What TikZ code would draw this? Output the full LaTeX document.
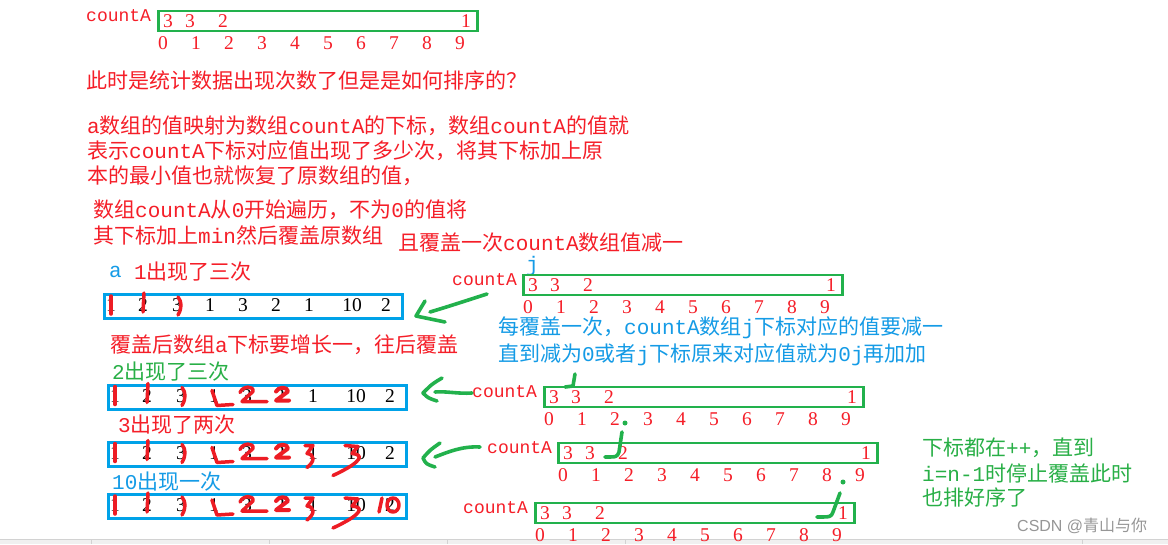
\documentclass[tikz,border=0pt]{standalone}
\usepackage{fontspec}
\setmainfont{Liberation Serif}
\newfontfamily\cjk{Noto Sans CJK SC}
\newfontfamily\mono{Liberation Mono}
\newfontfamily\lsans{Liberation Sans}
\newcommand\m[1]{{\mono #1}}
\definecolor{tred}{RGB}{245,30,40}
\definecolor{mred}{RGB}{237,28,36}
\definecolor{pgreen}{RGB}{34,177,76}
\definecolor{tgreen}{RGB}{40,175,70}
\definecolor{pblue}{RGB}{0,162,232}
\definecolor{tblue}{RGB}{20,155,230}
\definecolor{wmgray}{RGB}{150,150,150}
\definecolor{uibg}{RGB}{240,240,240}
\definecolor{uiline}{RGB}{210,210,210}
\tikzset{
 txt/.style={inner sep=0pt, anchor=west, font=\fontsize{21}{21}\selectfont\cjk},
 lab/.style={inner sep=0pt, anchor=west, text=tred, font=\fontsize{18}{18}\selectfont\mono},
 dig/.style={inner sep=0pt, font=\fontsize{19.5}{19.5}\selectfont},
 gbox/.style={draw=pgreen, line width=2.9pt, inner sep=0pt, anchor=north west, minimum width=319pt, minimum height=20pt},
 bbox/.style={draw=pblue, line width=3.2pt, inner sep=0pt, anchor=north west, minimum width=298pt, minimum height=24pt},
 rmark/.style={draw=mred, line width=3.5pt, line cap=round, line join=round},
 gmark/.style={draw=pgreen, line width=3.6pt, line cap=round, line join=round},
}
\newcommand\carr[4]{%
 \node[lab] (#1l) at (#4,#3-5) {countA};
 \node[gbox] (#1b) at (#2-6,#3-11.5) {};
 \node[dig,text=tred] (#1v0) at (#2+5,#3) {3};
 \node[dig,text=tred] (#1v1) at (#2+27,#3) {3};
 \node[dig,text=tred] (#1v2) at (#2+60,#3) {2};
 \node[dig,text=tred] (#1v9) at (#2+303,#3) {1};
 \foreach \k in {0,...,9} \node[dig,text=tred] (#1i\k) at (#2+33*\k,#3+22) {\k};
}
\newcommand\arow[3]{%
 \node[bbox] (#1b) at (#2,#3) {};
 \foreach \xx/\d [count=\k] in {8/1,40/2,74/3,107/1,140/3,173/2,206/1,249/10,283/2}
   \node[dig] (#1d\k) at (#2+\xx,#3+12) {\d};
}
\newcommand\strikes{%
 \draw[rmark] (8,-9) -- (8,9);
 \draw[rmark] (41,-12) -- (40,7);
 \draw[rmark] (75,-8) .. controls (79,-3) and (79,3) .. (75,10);
}
\newcommand\markB{%
 \draw[rmark] (105,-5) .. controls (107,3) .. (110,10) -- (126,9);
 \draw[rmark] (133,-3) .. controls (136,-10) and (147,-10) .. (146,-4) -- (135,6) -- (160,6);
 \draw[rmark, line width=4pt] (169,-4) .. controls (171,-9) and (181,-9) .. (181,-4) -- (169,5) -- (182,5);
}
\newcommand\markC{%
 \draw[rmark] (198,-7) -- (206,-7) -- (200,1) .. controls (208,2) and (208,9) .. (200,15);
 \draw[rmark] (238,-7) -- (251,-6) -- (245,1) .. controls (256,2) and (258,8) .. (226,23);
}
\begin{document}
\begin{tikzpicture}[x=1pt,y=-1pt]
\useasboundingbox (0,0) rectangle (1168,544);
\fill[white] (0,0) rectangle (1168,544);
% UI strip at the bottom
\fill[uibg] (0,539) rectangle (1168,544);
\draw[uiline, line width=0.8pt] (0,539) -- (1168,539);
\foreach \u in {91,269,447,625,1082} \draw[uiline, line width=0.8pt] (\u,540) -- (\u,544);

% top countA
\carr{c0}{163}{21}{86}

% red explanation text
\node[txt, text=tred] (t1) at (86,81) {此时是统计数据出现次数了但是是如何排序的？};
\node[txt, text=tred] (t2) at (87,126) {\m{a}数组的值映射为数组\m{countA}的下标，数组\m{countA}的值就};
\node[txt, text=tred] (t3) at (87,151) {表示\m{countA}下标对应值出现了多少次，将其下标加上原};
\node[txt, text=tred] (t4) at (87,176) {本的最小值也就恢复了原数组的值，};
\node[txt, text=tred] (t5) at (93,210) {数组\m{countA}从\m{0}开始遍历，不为\m{0}的值将};
\node[txt, text=tred] (t6) at (93,235) {其下标加上\m{min}然后覆盖原数组};
\node[txt, text=tred] (t7) at (398,243) {且覆盖一次\m{countA}数组值减一};

% first array a
\node[txt, text=tblue] (ta) at (109,272) {\m{a}};
\node[txt, text=tred] (t8) at (134,272) {\m{1}出现了三次};
\arow{a1}{103}{293}
\begin{scope}[shift={(103,305)}]\strikes\end{scope}

% countA row 1
\node[txt, text=tblue] (j1) at (526,266) {\m{j}};
\carr{c1}{528}{285}{452}
\node[txt, text=tblue] (t9) at (498,328) {每覆盖一次，\m{countA}数组\m{j}下标对应的值要减一};
\node[txt, text=tblue] (t10) at (498,355) {直到减为\m{0}或者\m{j}下标原来对应值就为\m{0j}再加加};
\coordinate (ar1s) at (487,294);
\coordinate (ar1e) at (430,312);
\coordinate (ar1t) at (416,316);
\draw[gmark] (ar1s) .. controls (462,302) and (450,306) .. (ar1e);
\draw[gmark] (425,301) -- (ar1t) -- (445,322);

% second array
\node[txt, text=tred] (t11) at (110,345) {覆盖后数组\m{a}下标要增长一，往后覆盖};
\node[txt, text=tgreen] (t12) at (112,372) {\m{2}出现了三次};
\arow{a2}{107}{384}
\begin{scope}[shift={(107,395.5)}]\strikes\markB\end{scope}

\carr{c2}{549}{397}{472}
\draw[gmark] (575,374) -- (573,386) -- (565,387);
\coordinate (ar2s) at (472,393);
\coordinate (ar2e) at (435,392);
\coordinate (ar2t) at (423,393);
\draw[gmark] (ar2s) .. controls (458,394) and (446,391) .. (ar2e);
\draw[gmark] (442,378) .. controls (432,384) .. (ar2t) .. controls (428,398) .. (437,401);

% third array
\node[txt, text=tred] (t13) at (118,425) {\m{3}出现了两次};
\arow{a3}{107}{441}
\begin{scope}[shift={(107,452.5)}]\strikes\markB\markC\end{scope}

\carr{c3}{563}{453}{487}
\fill[pgreen] (625,423) circle (2.5pt);
\draw[gmark] (622,432) -- (619,452) .. controls (617,457) .. (605,457);
\coordinate (ar3s) at (480,447);
\coordinate (ar3e) at (435,457);
\coordinate (ar3t) at (423,458);
\draw[gmark] (ar3s) .. controls (462,446) and (448,452) .. (ar3e);
\draw[gmark] (440,443) .. controls (430,450) .. (ar3t) .. controls (426,464) .. (435,467);

% fourth array
\node[txt, text=tblue] (t14) at (112,482) {\m{10}出现一次};
\arow{a4}{107}{493}
\begin{scope}[shift={(107,505)}]\strikes\markB\markC
 \draw[rmark] (275,-7) -- (272,7);
 \draw[rmark] (286,0) ellipse [x radius=6pt, y radius=7pt];
\end{scope}

\carr{c4}{540}{513}{463}
\fill[pgreen] (843,482) circle (2.5pt);
\draw[gmark] (840,493) -- (833,512) .. controls (831,517) .. (817,517);

% bottom right green text
\node[txt, text=tgreen] (t15) at (922,448) {下标都在\m{++}，直到};
\node[txt, text=tgreen] (t16) at (922,473) {\m{i=n-1}时停止覆盖此时};
\node[txt, text=tgreen] (t17) at (922,497) {也排好序了};

% watermark
\node[inner sep=0pt, anchor=west, text=wmgray, font=\fontsize{16}{16}\selectfont\lsans] (wm) at (1017,526) {CSDN @{\cjk 青山与你}};
\end{tikzpicture}
\end{document}
